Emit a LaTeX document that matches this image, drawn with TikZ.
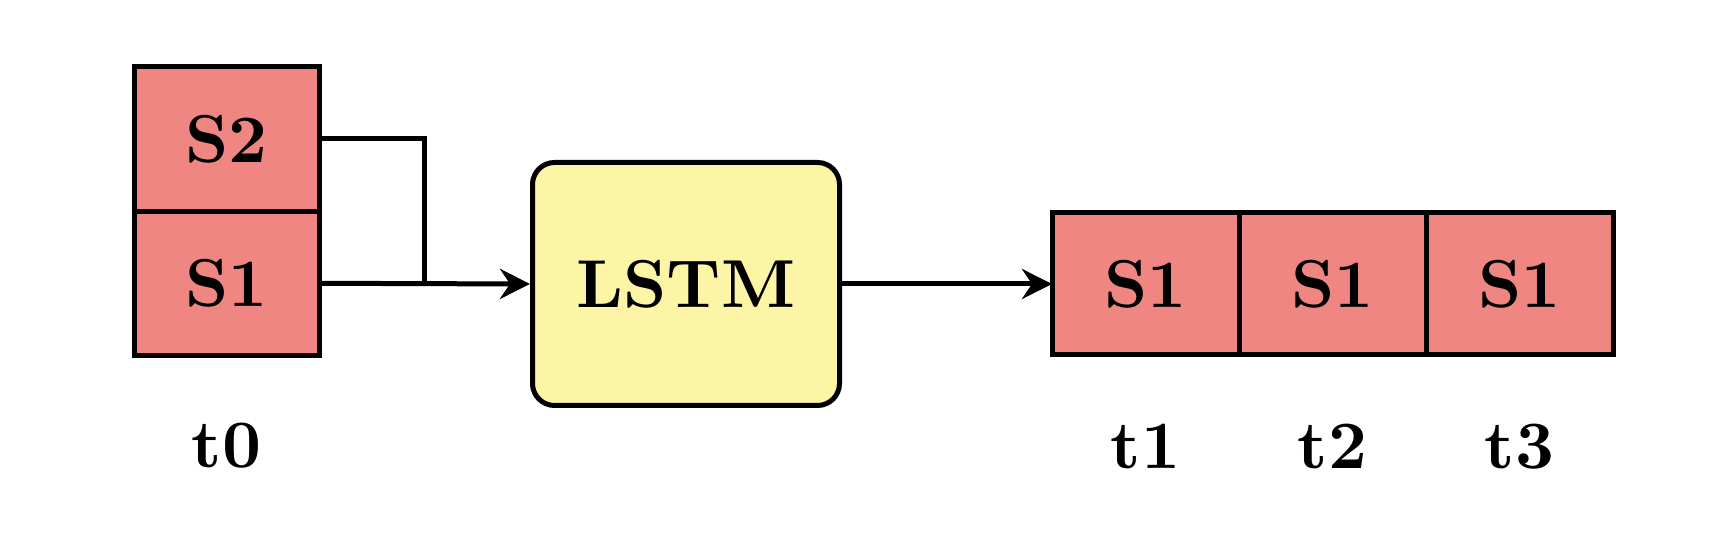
\documentclass[tikz,border=0pt]{standalone}
\usepackage{tikz}
\usetikzlibrary{positioning, arrows.meta}
\definecolor{cellpink}{RGB}{240,134,130}
\definecolor{lstmyellow}{RGB}{253,245,166}
\font\diagbf=cmbx10 at 19.3pt

\begin{document}
\begin{tikzpicture}[
  font=\diagbf,
  line width=0.05cm,
  cell/.style={draw, fill=cellpink, minimum width=1.85cm, minimum height=1.42cm, inner sep=0pt, outer sep=0pt},
  lstmbox/.style={draw, fill=lstmyellow, rounded corners=0.22cm, minimum width=3.07cm, minimum height=2.43cm},
  tlabel/.style={inner sep=0pt},
  flow/.style={-{Stealth[length=3mm, width=3mm, inset=1mm]}}
]
\useasboundingbox (0,0) rectangle (17.18,5.46);
% --- input at t0 ---
\node[cell, minimum height=1.445cm] (s1) at (2.265,2.627) {S1};
\node[cell, minimum height=1.445cm, above=0pt of s1] (s2) {S2};
\node[tlabel, below=0.66cm of s1] (t0) {t0};
% --- model ---
\node[lstmbox] (lstm) at (6.86,2.62) {LSTM};
\coordinate (join) at (4.24,0 |- s1.east);
\draw (s2.east) -| (join);
\draw[flow] (s1.east) -- (lstm.west);
% --- outputs ---
\node[cell, minimum width=1.87cm] (o1) at (11.455,2.62) {S1};
\node[cell, minimum width=1.87cm, right=0pt of o1] (o2) {S1};
\node[cell, minimum width=1.87cm, right=0pt of o2] (o3) {S1};
\draw[flow] (lstm.east) -- (o1.west);
\node[tlabel, below=0.67cm of o1] (t1) {t1};
\node[tlabel, below=0.67cm of o2] (t2) {t2};
\node[tlabel, below=0.67cm of o3] (t3) {t3};
\end{tikzpicture}
\end{document}
